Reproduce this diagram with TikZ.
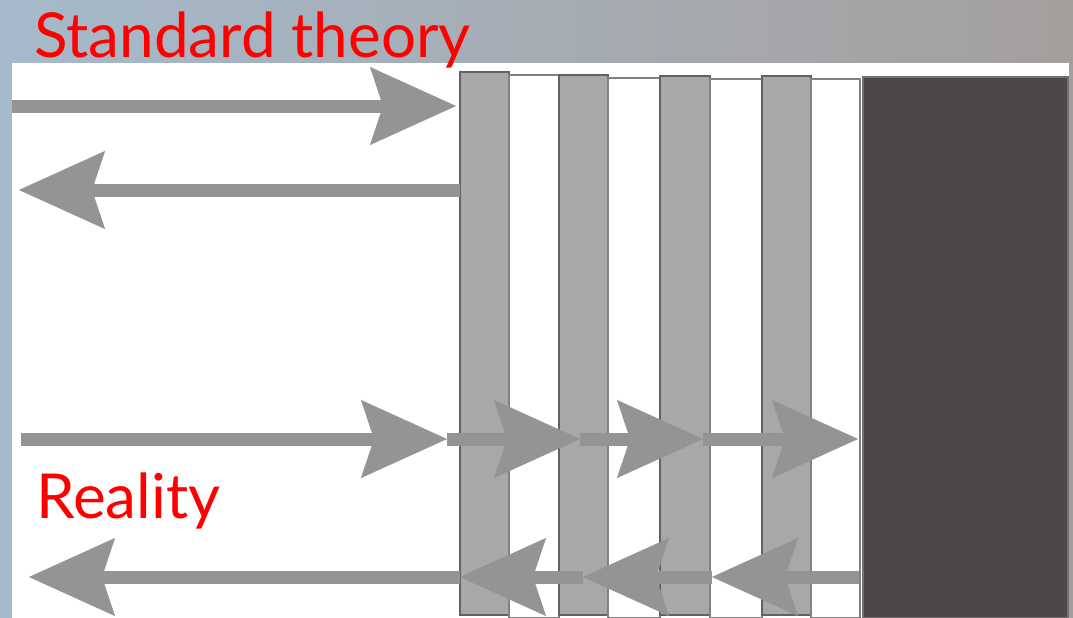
\documentclass[tikz,border=0pt]{standalone}
\usepackage{fontspec}
\setmainfont{Lato}
\usetikzlibrary{arrows.meta}
\definecolor{raygray}{HTML}{959492}
\definecolor{bargray}{HTML}{A8A8A8}
\definecolor{edgegray}{HTML}{626262}
\definecolor{basedark}{HTML}{4B4847}
\definecolor{bgblue}{HTML}{A6BACB}
\definecolor{bgmauve}{HTML}{A9A4B0}
\definecolor{bggray}{HTML}{A49F9D}
\begin{document}
\begin{tikzpicture}[x=1pt,y=-1pt,
  graybar/.style={fill=bargray,draw=edgegray,line width=2pt},
  whitebar/.style={fill=white,draw=edgegray!80,line width=1.2pt},
  ray/.style={draw=raygray,line width=13pt,
    -{Stealth[length=86pt,width=78pt,inset=13pt,line width=0.5pt]}},
  redtext/.style={text=red,font=\fontsize{62}{72}\selectfont,inner sep=0pt,anchor=base west}]
  \useasboundingbox (0,0) rectangle (1073,618);
  \shade[left color=bgblue,middle color=bgmauve,right color=bggray] (0,0) rectangle (1073,618);
  \fill[white] (12,63) rectangle (1069,618);
  % layers
  \draw[graybar] (460,72) rectangle (509,615);
  \draw[whitebar] (509,75) rectangle (559,618);
  \draw[graybar] (559,75) rectangle (608,615);
  \draw[whitebar] (608,78) rectangle (660,618);
  \draw[graybar] (660,76) rectangle (710,615);
  \draw[whitebar] (710,79) rectangle (762,618);
  \draw[graybar] (762,76) rectangle (811,615);
  \draw[whitebar] (811,79) rectangle (860,618);
  \draw[fill=basedark,draw=edgegray!90,line width=1.5pt] (863,77) rectangle (1068,618);
  % standard theory
  \draw[ray] (12,106) -- (456,106);
  \draw[ray] (460,190) -- (19,190);
  % reality
  \draw[ray] (21,439) -- (447,439);
  \draw[ray] (447,439) -- (580,439);
  \draw[ray] (580,439) -- (703,439);
  \draw[ray] (703,439) -- (858,439);
  \draw[ray] (859,577) -- (712,577);
  \draw[ray] (712,577) -- (583,577);
  \draw[ray] (583,577) -- (460,577);
  \draw[ray] (460,577) -- (29,577);
  \node[redtext] (std) at (34,57) {Standard theory};
  \node[redtext] (real) at (36,518) {Reality};
\end{tikzpicture}
\end{document}
